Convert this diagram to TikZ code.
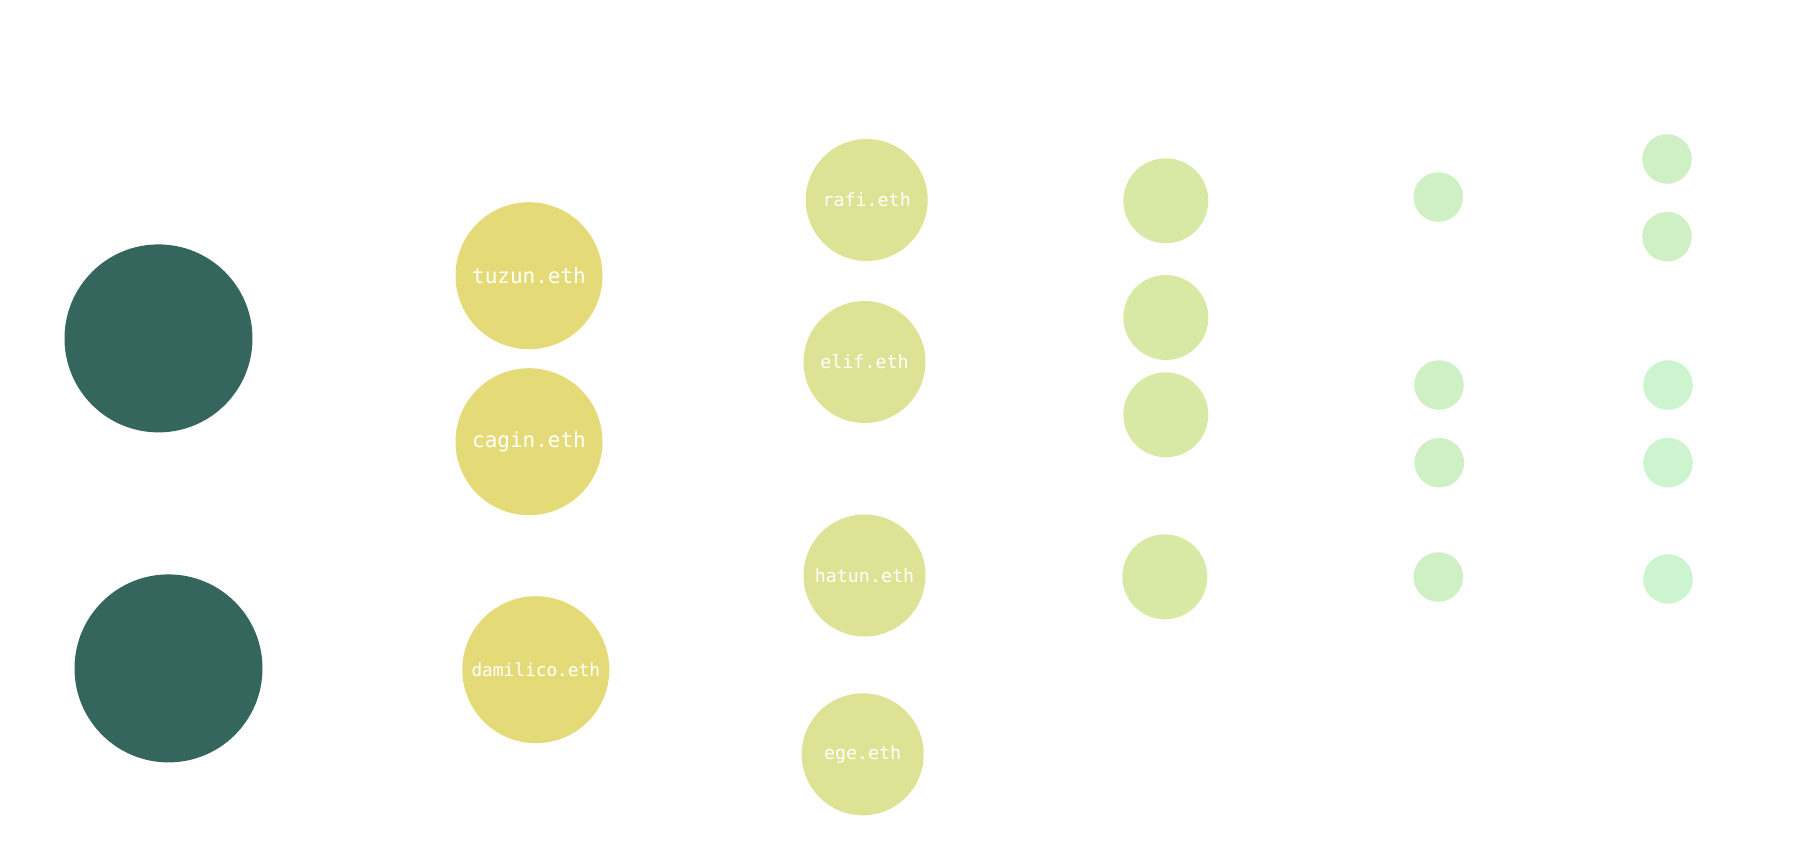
\documentclass[tikz,border=0pt]{standalone}
\usepackage{fontspec}
\setmonofont{DejaVu Sans Mono}

\definecolor{rootgreen}{HTML}{35665D}
\definecolor{levelone}{HTML}{E4DB78}
\definecolor{leveltwo}{HTML}{DDE294}
\definecolor{levelthree}{HTML}{D8E9A6}
\definecolor{levelfour}{HTML}{CFF0C4}
\definecolor{levelfive}{HTML}{CBF4CF}

\begin{document}
\begin{tikzpicture}[x=1pt, y=-1pt,
        dot/.style={circle, inner sep=0pt, text=white},
        rootdot/.style={dot, fill=rootgreen, minimum size=188pt},
        onedot/.style={dot, fill=levelone, minimum size=147pt, font=\fontsize{21}{25}\selectfont\ttfamily},
        twodot/.style={dot, fill=leveltwo, minimum size=122pt, font=\fontsize{18.3}{22}\selectfont\ttfamily},
        threedot/.style={dot, fill=levelthree, minimum size=85pt},
        fourdot/.style={dot, fill=levelfour, minimum size=49.6pt},
        fivedot/.style={dot, fill=levelfive, minimum size=49.6pt}]
    \useasboundingbox (0,0) rectangle (1796,856);

    % roots
    \node[rootdot] (root1) at (158.5, 338.4) {};
    \node[rootdot] (root2) at (168.5, 668.4) {};

    % first level
    \node[onedot] (tuzun) at (529, 275.7) {tuzun.eth};
    \node[onedot] (cagin) at (529, 441.7) {cagin.eth};
    \node[onedot, font=\fontsize{17.8}{21}\selectfont\ttfamily] (damilico) at (535.8, 669.7) {damilico.eth};

    % second level
    \node[twodot] (rafi) at (866.7, 200) {rafi.eth};
    \node[twodot] (elif) at (864.5, 362) {elif.eth};
    \node[twodot] (hatun) at (864.5, 575.5) {hatun.eth};
    \node[twodot] (ege) at (862.7, 754.3) {ege.eth};

    % third level
    \node[threedot] (c1) at (1165.8, 200.8) {};
    \node[threedot] (c2) at (1165.8, 317.5) {};
    \node[threedot] (c3) at (1165.8, 414.8) {};
    \node[threedot] (c4) at (1164.8, 576.8) {};

    % fourth level
    \node[fourdot] (d1) at (1438.3, 197) {};
    \node[fourdot] (d2) at (1439, 385) {};
    \node[fourdot] (d3) at (1439.3, 462.7) {};
    \node[fourdot] (d4) at (1438.3, 577) {};

    % fifth level
    \node[fourdot] (e1) at (1667, 159) {};
    \node[fourdot] (e2) at (1667, 236.7) {};
    \node[fivedot] (e3) at (1668, 385) {};
    \node[fivedot] (e4) at (1668, 462.7) {};
    \node[fivedot] (e5) at (1668, 579) {};
\end{tikzpicture}
\end{document}
